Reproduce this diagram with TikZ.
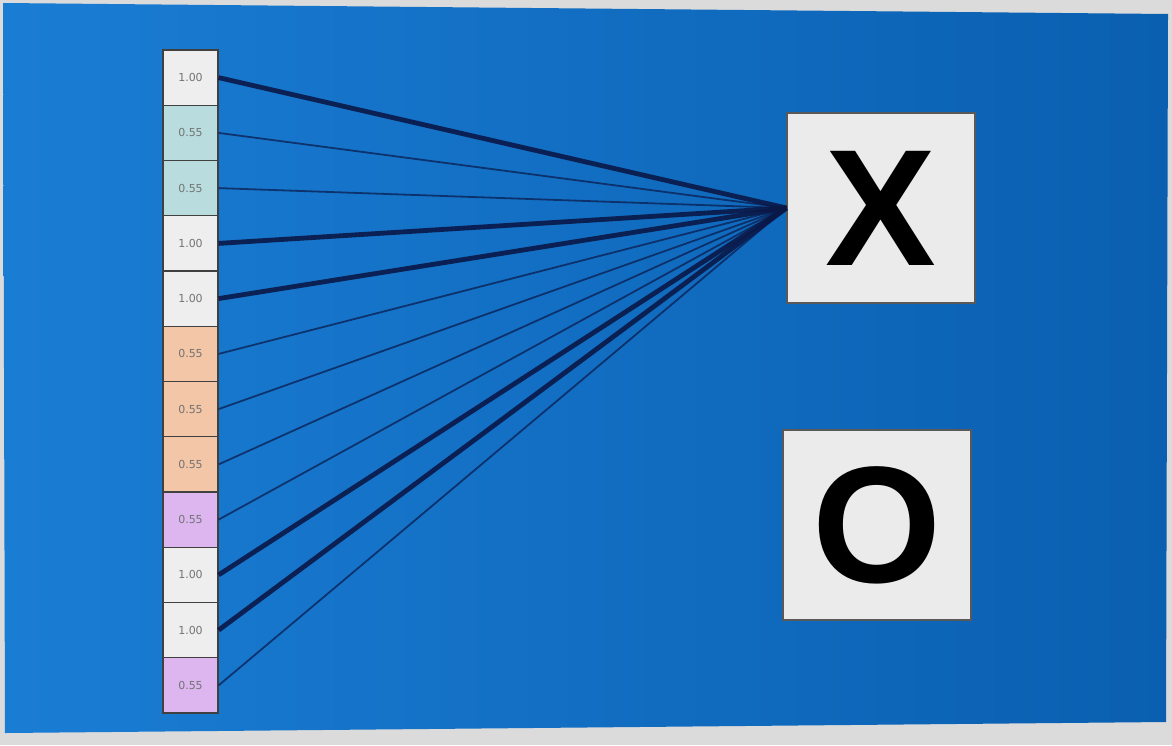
\documentclass[tikz,border=0pt]{standalone}
\usepackage{fontspec}
\setmainfont{Liberation Sans}
\newfontfamily\cellfont{DejaVu Sans}
\definecolor{screenblue}{HTML}{1A7DD4}
\definecolor{screendark}{HTML}{0A5FB0}
\definecolor{wirecol}{HTML}{0A1848}
\definecolor{cellwhite}{HTML}{EEEEEE}
\definecolor{cellteal}{HTML}{B9DCDF}
\definecolor{cellorange}{HTML}{F2C6A6}
\definecolor{cellpurple}{HTML}{DDB6F0}
\definecolor{boxgray}{HTML}{EBEBEB}
\begin{document}
\begin{tikzpicture}[x=0.5pt, y=-0.5pt,
		cell/.style={draw=black!75, line width=0.6pt, minimum width=27.5pt, minimum height=27.6pt, inner sep=0pt, font=\cellfont\fontsize{5.5}{6}\selectfont, text=black!55},
		outbox/.style={draw=black!65, line width=0.6pt, fill=boxgray, minimum width=94pt, minimum height=95pt, inner sep=0pt, font=\bfseries\fontsize{83}{90}\selectfont},
		strong/.style={wirecol, line width=2.4pt, opacity=0.9},
		weak/.style={wirecol, line width=0.9pt, opacity=0.7}]
		\useasboundingbox (0,0) rectangle (1172,745);
		\fill[black!14] (0,0) rectangle (1172,745);
		\shade[left color=screenblue, right color=screendark] (3,3) -- (1168,14) -- (1166,722) -- (5,733) -- cycle;
		
		\node[outbox] (X) at (881,208) {\raisebox{-3pt}{X}};
		\node[outbox] (O) at (877,525) {\raisebox{-2.5pt}{O}};
		
		\node[cell, fill=cellwhite] (c1) at (190.5,77.6) {1.00};
		\node[cell, fill=cellteal] (c2) at (190.5,132.9) {0.55};
		\node[cell, fill=cellteal] (c3) at (190.5,188.1) {0.55};
		\node[cell, fill=cellwhite] (c4) at (190.5,243.4) {1.00};
		\node[cell, fill=cellwhite] (c5) at (190.5,298.6) {1.00};
		\node[cell, fill=cellorange] (c6) at (190.5,353.9) {0.55};
		\node[cell, fill=cellorange] (c7) at (190.5,409.1) {0.55};
		\node[cell, fill=cellorange] (c8) at (190.5,464.4) {0.55};
		\node[cell, fill=cellpurple] (c9) at (190.5,519.6) {0.55};
		\node[cell, fill=cellwhite] (c10) at (190.5,574.9) {1.00};
		\node[cell, fill=cellwhite] (c11) at (190.5,630.1) {1.00};
		\node[cell, fill=cellpurple] (c12) at (190.5,685.4) {0.55};
		
		\draw[strong] (c1.east) -- (X.west);
		\draw[weak] (c2.east) -- (X.west);
		\draw[weak] (c3.east) -- (X.west);
		\draw[strong] (c4.east) -- (X.west);
		\draw[strong] (c5.east) -- (X.west);
		\draw[weak] (c6.east) -- (X.west);
		\draw[weak] (c7.east) -- (X.west);
		\draw[weak] (c8.east) -- (X.west);
		\draw[weak] (c9.east) -- (X.west);
		\draw[strong] (c10.east) -- (X.west);
		\draw[strong] (c11.east) -- (X.west);
		\draw[weak] (c12.east) -- (X.west);
	\end{tikzpicture}
\end{document}
